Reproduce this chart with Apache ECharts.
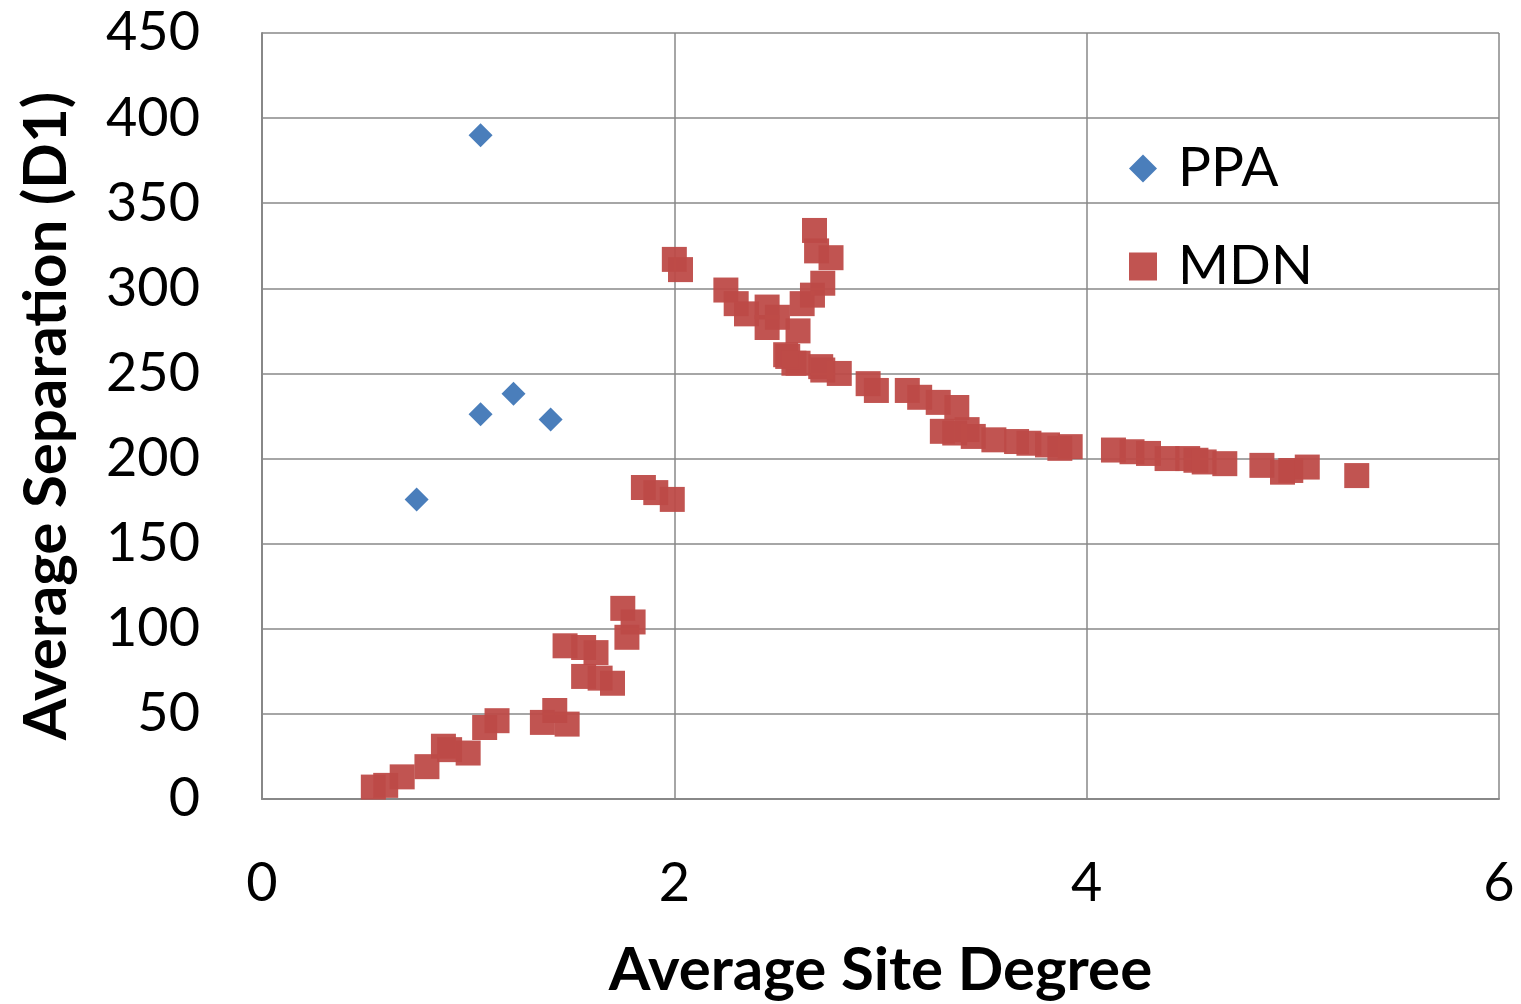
<!DOCTYPE html>
<html><head><meta charset="utf-8">
<script src="https://cdn.jsdelivr.net/npm/echarts@6/dist/echarts.min.js"></script>
<style>html,body{margin:0;padding:0;background:#fff}#c{width:1521px;height:1004px}</style>
</head><body><div id="c"></div>
<script>
const xTicks = [0, 2, 4, 6];
const yTicks = [0, 50, 100, 150, 200, 250, 300, 350, 400, 450];
const ppaX = [1.06, 1.06, 1.22, 1.40, 0.75];
const ppaY = [390, 226, 238, 223, 176];
const mdnX = [0.54,0.60,0.68,0.80,0.88,0.91,1.00,1.08,1.14,1.36,1.42,1.48,1.47,1.56,1.62,1.56,1.64,1.70,1.75,1.80,1.77,
  1.85,1.91,1.99,2.00,2.03,2.25,2.30,2.35,2.45,2.45,2.50,2.60,2.55,2.60,2.62,2.67,2.72,2.76,2.69,2.68,2.71,2.80,2.94,
  2.54,2.58,2.72,2.98,3.13,3.19,3.28,3.37,3.30,3.36,3.42,3.45,3.55,3.66,3.72,3.81,3.87,3.92,
  4.13,4.22,4.30,4.39,4.49,4.53,4.57,4.67,4.85,4.95,4.99,5.07,5.31];
const mdnY = [7,8,13,19,31,29,27,42,46,45,52,44,90,89,86,72,71,68,112,104,95,
  183,180,176,317,311,299,291,285,289,277,283,275,260,256,291,296,303,318,322,334,254,250,244,
  261,256,252,240,240,236,233,230,216,215,217,213,211,210,209,208,206,207,
  205,204,203,200,200,199,198,197,196,192,193,195,190];

const FONT = 'Lato, "Open Sans", sans-serif';
const chart = echarts.init(document.getElementById('c'));
chart.setOption({
  animation: false,
  grid: {left: 262, right: 22, top: 33, bottom: 205, outerBoundsMode: 'none', containLabel: false},
  legend: {
    orient: 'vertical', left: 1124, top: 136, itemGap: 43, itemWidth: 28, itemHeight: 28,
    textStyle: {fontSize: 55, lineHeight: 55, fontFamily: FONT, color: '#000', padding: [0, 0, 0, 16]},
    data: [{name: 'PPA', icon: 'diamond'}, {name: 'MDN', icon: 'rect'}]
  },
  xAxis: {
    type: 'value', min: 0, max: 6, interval: 2,
    name: 'Average Site Degree', nameLocation: 'middle', nameGap: 142,
    nameTextStyle: {fontSize: 60, fontWeight: 'bold', fontFamily: FONT, color: '#000'},
    axisLine: {show: true, lineStyle: {color: '#888', width: 2}},
    axisTick: {show: false},
    axisLabel: {fontSize: 54, fontFamily: FONT, color: '#000', margin: 58,
      formatter: v => xTicks.includes(v) ? String(v) : ''},
    splitLine: {show: true, lineStyle: {color: '#888', width: 1.5}}
  },
  yAxis: {
    type: 'value', min: 0, max: 450, interval: 50,
    name: 'Average Separation (D1)', nameLocation: 'middle', nameGap: 185, nameRotate: 90,
    nameTextStyle: {fontSize: 60, fontWeight: 'bold', fontFamily: FONT, color: '#000'},
    axisLine: {show: true, lineStyle: {color: '#888', width: 2}},
    axisTick: {show: false},
    axisLabel: {fontSize: 54, fontFamily: FONT, color: '#000', margin: 62,
      formatter: v => yTicks.includes(v) ? String(v) : ''},
    splitLine: {show: true, lineStyle: {color: '#888', width: 1.5}}
  },
  series: [
    {name: 'PPA', type: 'scatter', symbol: 'diamond', symbolSize: [24, 24],
      itemStyle: {color: '#4a7ebb', opacity: 1},
      data: ppaX.map((x, i) => [x, ppaY[i]])},
    {name: 'MDN', type: 'scatter', symbol: 'rect', symbolSize: 25,
      itemStyle: {color: '#be4b48', opacity: 0.95},
      data: mdnX.map((x, i) => [x, mdnY[i]])}
  ]
});
</script></body></html>
